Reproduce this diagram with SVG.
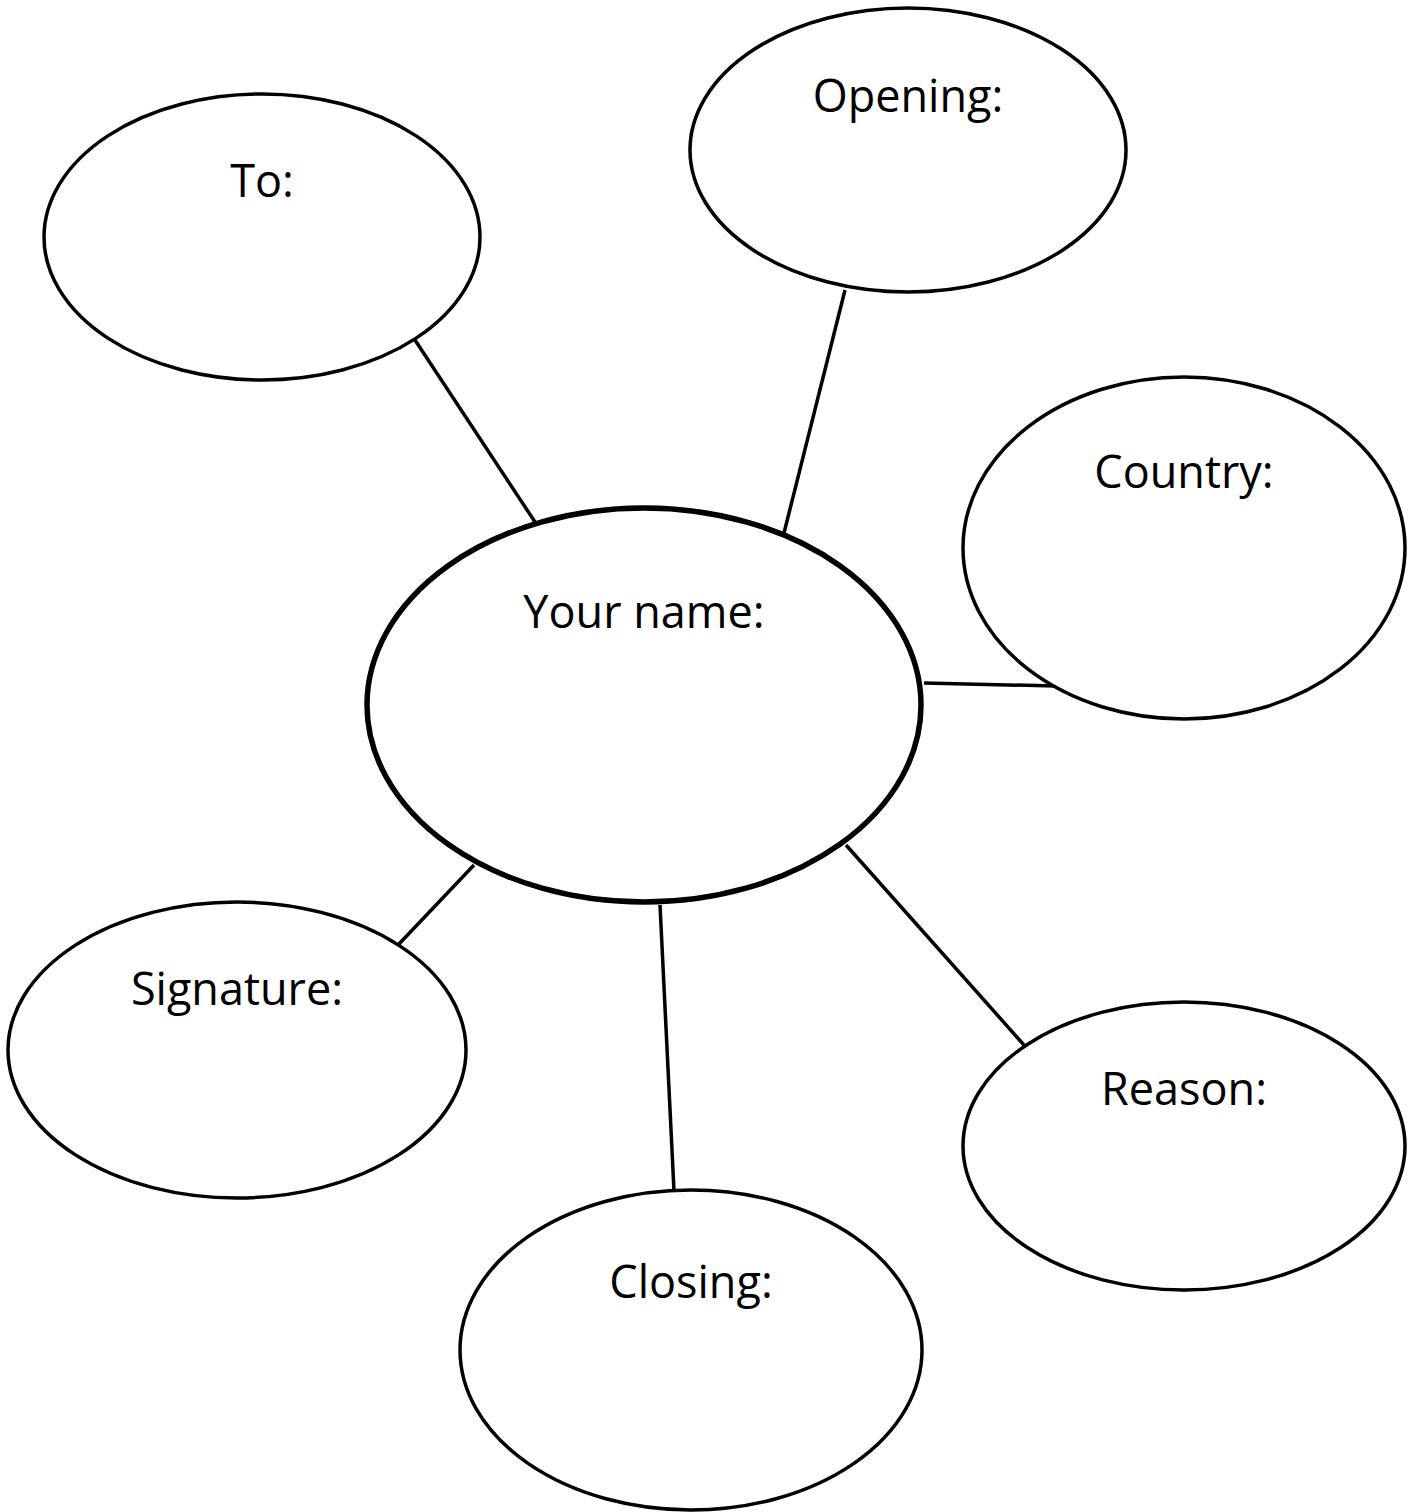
<svg xmlns="http://www.w3.org/2000/svg" width="1418" height="1512" viewBox="0 0 1418 1512">
<style>
.n{fill:#fff;stroke:#000;stroke-width:3.5}
.c{fill:#fff;stroke:#000;stroke-width:5.5}
.t{font-family:"Open Sans","Liberation Sans",sans-serif;font-size:45px;fill:#000;text-anchor:middle}
.l{stroke:#000;stroke-width:3.5;fill:none}
</style>
<rect width="1418" height="1512" fill="#fff"/>
<g id="connectors">
<line class="l" x1="413" y1="337" x2="535" y2="522"/>
<line class="l" x1="845" y1="290" x2="784" y2="533"/>
<line class="l" x1="924" y1="683" x2="1056" y2="686"/>
<line class="l" x1="399" y1="944" x2="474" y2="865"/>
<line class="l" x1="660" y1="905" x2="674" y2="1191"/>
<line class="l" x1="846" y1="845" x2="1024" y2="1045"/>
</g>
<g id="to"><ellipse class="n" cx="262" cy="237" rx="218" ry="143"/><text class="t" x="262" y="197">To:</text></g>
<g id="opening"><ellipse class="n" cx="908" cy="150" rx="218" ry="142"/><text class="t" x="908" y="112">Opening:</text></g>
<g id="country"><ellipse class="n" cx="1184" cy="548" rx="221" ry="171"/><text class="t" x="1184" y="488">Country:</text></g>
<g id="name"><ellipse class="c" cx="644" cy="705" rx="277" ry="197"/><text class="t" x="644" y="628">Your name:</text></g>
<g id="signature"><ellipse class="n" cx="237" cy="1050" rx="229" ry="148"/><text class="t" x="237" y="1005">Signature:</text></g>
<g id="closing"><ellipse class="n" cx="691" cy="1350" rx="231" ry="160"/><text class="t" x="691" y="1298">Closing:</text></g>
<g id="reason"><ellipse class="n" cx="1184" cy="1146" rx="221" ry="144"/><text class="t" x="1184" y="1105">Reason:</text></g>
</svg>
